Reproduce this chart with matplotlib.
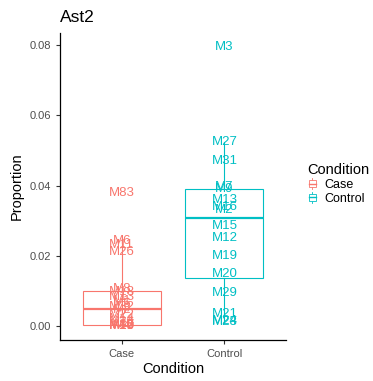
import matplotlib
matplotlib.use('Agg')
import matplotlib.pyplot as plt
from matplotlib.patches import Rectangle
from matplotlib.lines import Line2D
from matplotlib.legend_handler import HandlerBase
import numpy as np

plt.rcParams['font.family'] = ['Liberation Sans', 'DejaVu Sans']

conditions = ['Case', 'Control']
colors = ['#F8766D', '#00BFC4']

case_labels = ['M83', 'M6', 'M11', 'M26', 'M8', 'M18', 'M13', 'M1', 'M5', 'M32',
               'M2', 'M22', 'M14', 'M24', 'M30', 'M17', 'M19', 'M16', 'M10', 'M4']
case_vals = [0.0380, 0.0243, 0.0230, 0.0210, 0.0105, 0.0097, 0.0082, 0.0072, 0.0062, 0.0055,
             0.0045, 0.0032, 0.0022, 0.0012, 0.0003, 0.0002, 0.0002, 0.0001, 0.0, 0.0]

control_labels = ['M3', 'M27', 'M31', 'M7', 'M9', 'M13', 'M16', 'M2', 'M15', 'M12',
                  'M19', 'M20', 'M29', 'M21', 'M24', 'M28']
control_vals = [0.0795, 0.0523, 0.0471, 0.0395, 0.0390, 0.0360, 0.0340, 0.0330, 0.0284, 0.0250,
                0.0199, 0.0150, 0.0094, 0.0034, 0.0014, 0.0012]

labels = [case_labels, control_labels]
values = [case_vals, control_vals]

fig = plt.figure(figsize=(3.73, 3.81), dpi=100)
ax = fig.add_axes([0.161, 0.107, 0.606, 0.807])

for i, (vals, col) in enumerate(zip(values, colors)):
    ax.boxplot(vals, positions=[i + 1], widths=0.76, showfliers=False, whis=1.5,
               patch_artist=True, showcaps=False,
               boxprops=dict(facecolor='none', edgecolor=col, linewidth=0.8),
               medianprops=dict(color=col, linewidth=1.6),
               whiskerprops=dict(color=col, linewidth=0.8))
    for lab, v in zip(labels[i], vals):
        ax.text(i + 1, v, lab, color=col, fontsize=9.5, ha='center', va='center')

allv = np.concatenate([case_vals, control_vals])
pad = 0.05 * (allv.max() - allv.min())
ax.set_ylim(allv.min() - pad, allv.max() + pad)
ax.set_xlim(0.4, 2.6)
ax.set_xticks([1, 2])
ax.set_xticklabels(conditions)
ax.set_yticks([0, 0.02, 0.04, 0.06, 0.08])
ax.set_yticklabels(['0.00', '0.02', '0.04', '0.06', '0.08'])
ax.tick_params(labelsize=8, labelcolor='#4D4D4D', length=3, width=0.8, color='#333333')
for s in ['top', 'right']:
    ax.spines[s].set_visible(False)
for s in ['left', 'bottom']:
    ax.spines[s].set_linewidth(0.9)

ax.set_xlabel('Condition', fontsize=10.5, labelpad=2)
ax.set_ylabel('Proportion', fontsize=10.5, labelpad=4)
ax.set_title('Ast2', loc='left', fontsize=12.5, pad=8)


class BoxKey(HandlerBase):
    def create_artists(self, legend, orig_handle, xdescent, ydescent, width, height, fontsize, trans):
        col = orig_handle.get_color()
        cx = width / 2 - xdescent
        w = width * 0.7
        h = height * 1.0
        y0 = -ydescent
        arts = [
            Line2D([cx, cx], [y0 - 0.15 * h, y0 + 1.15 * h], color=col, lw=0.6, transform=trans),
            Rectangle((cx - w / 2, y0 + 0.1 * h), w, 0.8 * h, facecolor='white', edgecolor=col, lw=0.6,
                      transform=trans),
            Line2D([cx - w / 2, cx + w / 2], [y0 + 0.5 * h, y0 + 0.5 * h], color=col, lw=1.0, transform=trans),
        ]
        return arts


handles = [Line2D([], [], color=c) for c in colors]
leg = fig.legend(handles, conditions, handler_map={Line2D: BoxKey()}, title='Condition',
                 loc='upper left', bbox_to_anchor=(0.81, 0.585), frameon=False, fontsize=9,
                 title_fontsize=10.5, handlelength=0.8, handleheight=0.7, handletextpad=0.6,
                 labelspacing=0.15, borderaxespad=0)
leg._legend_box.align = 'left'

fig.savefig('out.png', dpi=100)
